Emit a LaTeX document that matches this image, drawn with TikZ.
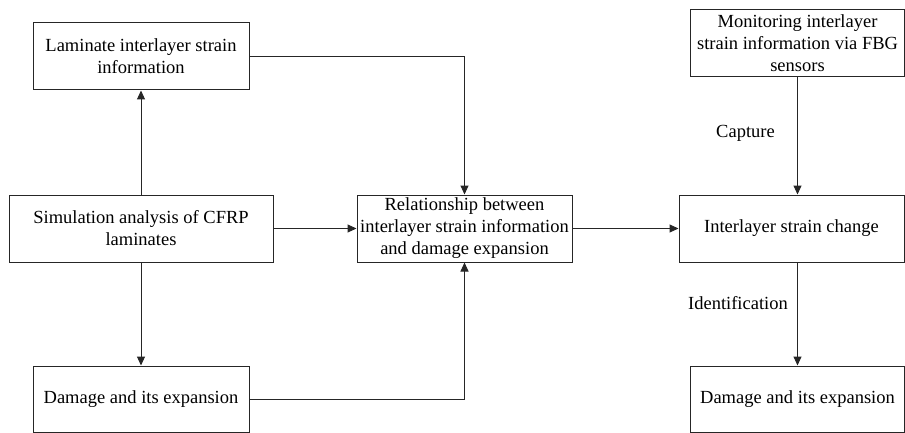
\documentclass[tikz,border=0pt]{standalone}
\usepackage{fontspec}
\setmainfont{Liberation Serif}
\usetikzlibrary{arrows.meta}

\begin{document}
\begin{tikzpicture}[x=1pt,y=-1pt,
    box/.style={draw=black!85,line width=1pt,align=center,inner sep=1pt,
      font=\fontsize{18.5pt}{22pt}\selectfont},
    lbl/.style={font=\fontsize{18.5pt}{22pt}\selectfont,inner sep=0pt},
    flow/.style={draw=black!85,line width=1pt,-{Triangle[length=9pt,width=8pt]}}]
  \useasboundingbox (0,0) rectangle (905,433);

  \node[box,minimum width=216pt,minimum height=67pt] (lam) at (141,56.5)
    {Laminate interlayer strain\\information};
  \node[box,minimum width=264pt,minimum height=67pt] (sim) at (141,228.5)
    {Simulation analysis of CFRP\\laminates};
  \node[box,minimum width=216pt,minimum height=66pt] (dmgL) at (141,399)
    {Damage and its expansion};
  \node[box,minimum width=215pt,minimum height=67pt] (rel) at (464.5,228.5)
    {Relationship between\\interlayer strain information\\and damage expansion};
  \node[box,minimum width=214pt,minimum height=67pt] (mon) at (797.5,43.5)
    {Monitoring interlayer\\strain information via FBG\\sensors};
  \node[box,minimum width=225pt,minimum height=67pt] (isc) at (791.5,228.5)
    {Interlayer strain change};
  \node[box,minimum width=214pt,minimum height=66pt] (dmgR) at (797.5,399)
    {Damage and its expansion};

  \coordinate (capin) at (mon.south |- isc.north);
  \coordinate (idout) at (mon.south |- isc.south);

  \draw[flow] (sim) -- (lam);
  \draw[flow] (sim) -- (dmgL);
  \draw[flow] (lam.east) -| (rel.north);
  \draw[flow] (dmgL.east) -| (rel.south);
  \draw[flow] (sim) -- (rel);
  \draw[flow] (rel) -- (isc);
  \draw[flow] (mon.south) -- (capin);
  \draw[flow] (idout) -- (dmgR.north);

  \node[lbl,anchor=east] (cap) at (775,133) {Capture};
  \node[lbl,anchor=east] (ident) at (788,303) {Identification};
\end{tikzpicture}
\end{document}
